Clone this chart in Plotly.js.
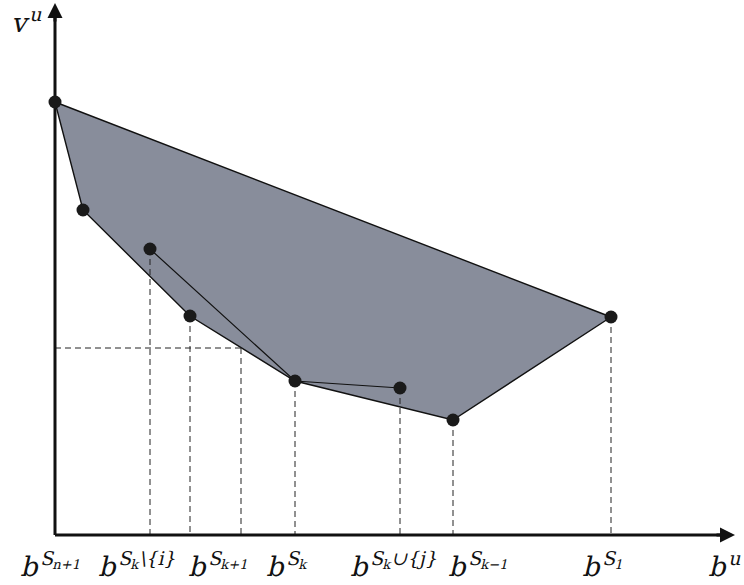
<!DOCTYPE html>
<html>
<head>
<meta charset="utf-8">
<script src="https://cdn.plot.ly/plotly-3.0.1.min.js"></script>
<style>
html,body{margin:0;padding:0;background:#fff;}
#chart{width:744px;height:585px;}
#chart text.annotation-text{transform:skewX(-13deg);transform-box:fill-box;transform-origin:50% 50%;}
</style>
</head>
<body>
<div id="chart"></div>
<script>
// Polygon vertices (b^u, v^u)
var hullX = [0, 28, 135, 240, 398, 556, 0];
var hullY = [433, 325, 219, 154, 115, 218, 433];
// Inner segments
var innerX = [95, 240, 345];
var innerY = [286, 154, 147];
// All marked points
var pointX = [0, 28, 95, 135, 240, 345, 398, 556];
var pointY = [433, 325, 286, 219, 154, 147, 115, 218];
// Dashed projection points (to x-axis)
var dropX = [95, 135, 186, 240, 345, 398, 556];
var dropY = [286, 219, 187, 154, 147, 115, 218];
// horizontal dashed reference
var hDashX = [0, 186];
var hDashY = [187, 187];
// Tick labels under the x-axis
var tickLabels = [
  "b<sup>S<sub>n+1</sub></sup>",
  "b<sup>S<sub>k</sub>\\{i}</sup>",
  "b<sup>S<sub>k+1</sub></sup>",
  "b<sup>S<sub>k</sub></sup>",
  "b<sup>S<sub>k</sub>∪{j}</sup>",
  "b<sup>S<sub>k−1</sub></sup>",
  "b<sup>S<sub>1</sub></sup>",
  "b<sup>u</sup>"
];
var yLabel = "v<sup>u</sup>";
var axisMaxX = 680, axisMaxY = 532;

// label placement (layout only)
var labelCenterX = [-3, 83, 165, 233, 340, 425, 549, 670];
var labelY = -29;

var dash = '6px,4px';
var traces = [];
traces.push({x: hullX, y: hullY, mode: 'lines', fill: 'toself', fillcolor: '#888d9b',
  line: {color: '#111', width: 1.4}, hoverinfo: 'skip', cliponaxis: false});
traces.push({x: innerX, y: innerY, mode: 'lines', line: {color: '#111', width: 1.2}, hoverinfo: 'skip'});
for (var i = 0; i < dropX.length; i++) {
  traces.push({x: [dropX[i], dropX[i]], y: [dropY[i], 0], mode: 'lines',
    line: {color: '#222', width: 1, dash: dash}, hoverinfo: 'skip'});
}
traces.push({x: hDashX, y: hDashY, mode: 'lines', line: {color: '#222', width: 1, dash: dash}, hoverinfo: 'skip'});
// axes
traces.push({x: [0, axisMaxX - 6], y: [0, 0], mode: 'lines', line: {color: '#111', width: 3}, hoverinfo: 'skip'});
traces.push({x: [0, 0], y: [0, axisMaxY - 6], mode: 'lines', line: {color: '#111', width: 3}, hoverinfo: 'skip'});
traces.push({x: pointX, y: pointY, mode: 'markers', marker: {color: '#1a1a1a', size: 13}, hoverinfo: 'skip', cliponaxis: false});

var labelFont = {family: 'DejaVu Serif', size: 27, color: '#111'};
var annotations = [];
for (var j = 0; j < tickLabels.length; j++) {
  annotations.push({x: labelCenterX[j], y: labelY, xref: 'x', yref: 'y', text: tickLabels[j], showarrow: false,
    xanchor: 'center', yanchor: 'middle', font: labelFont});
}
annotations.push({x: -28, y: 515, xref: 'x', yref: 'y', text: yLabel, showarrow: false,
  xanchor: 'center', yanchor: 'middle', font: labelFont});
annotations.push({x: axisMaxX, y: 0, ax: axisMaxX - 20, ay: 0, xref: 'x', yref: 'y', axref: 'x', ayref: 'y',
  text: '', showarrow: true, arrowhead: 2, arrowsize: 1, arrowwidth: 3, arrowcolor: '#111'});
annotations.push({x: 0, y: axisMaxY, ax: 0, ay: axisMaxY - 20, xref: 'x', yref: 'y', axref: 'x', ayref: 'y',
  text: '', showarrow: true, arrowhead: 2, arrowsize: 1, arrowwidth: 3, arrowcolor: '#111'});

var layout = {
  width: 744, height: 585,
  margin: {l: 0, r: 0, t: 0, b: 0},
  paper_bgcolor: '#fff', plot_bgcolor: '#fff',
  showlegend: false,
  xaxis: {range: [-55, 689], visible: false, fixedrange: true},
  yaxis: {range: [-50, 535], visible: false, fixedrange: true},
  annotations: annotations
};
Plotly.newPlot('chart', traces, layout, {displayModeBar: false, staticPlot: true});
</script>
</body>
</html>
